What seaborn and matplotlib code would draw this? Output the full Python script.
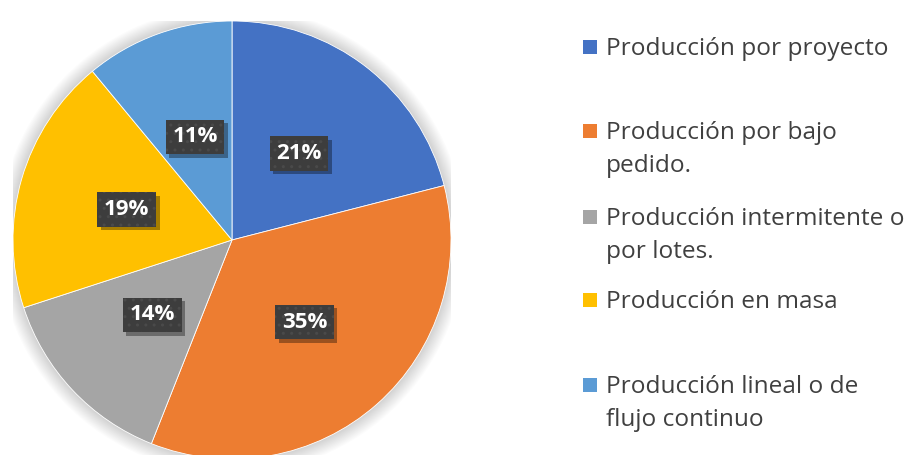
import matplotlib
matplotlib.use("Agg")
import matplotlib.pyplot as plt
import matplotlib.patheffects as pe
from matplotlib.patches import Circle, Rectangle
import seaborn as sns

# Production types and their share (%)
categorias = [
    "Producción por proyecto",
    "Producción por bajo\npedido.",
    "Producción intermitente o\npor lotes.",
    "Producción en masa",
    "Producción lineal o de\nflujo continuo",
]
porcentajes = [21, 35, 14, 19, 11]
colores = ["#4472C4", "#ED7D31", "#A5A5A5", "#FFC000", "#5B9BD5"]


class PlainShadow(pe.AbstractPathEffect):
    """Offset dark copy of a patch, without its hatch pattern."""

    def __init__(self, offset=(2.5, -2.5), alpha=0.4):
        super().__init__(offset)
        self._alpha = alpha

    def draw_path(self, renderer, gc, tpath, affine, rgbFace):
        gc0 = renderer.new_gc()
        gc0.copy_properties(gc)
        gc0.set_hatch(None)
        gc0.set_linewidth(0)
        gc0.set_alpha(self._alpha)
        renderer.draw_path(gc0, tpath, affine + self._offset_transform(renderer), (0, 0, 0))
        gc0.restore()


sns.set_theme(style="white")
plt.rcParams["font.family"] = ["Open Sans", "DejaVu Sans"]
palette = sns.color_palette(colores)

W, H = 916, 455
fig = plt.figure(figsize=(W / 100, H / 100), dpi=100)
fig.patch.set_facecolor("white")

# Pie axes: centre (232, 240) px from top-left, radius 219 px
cx, cy, r = 232, 240, 219
ax = fig.add_axes([(cx - r) / W, (H - cy - r) / H, 2 * r / W, 2 * r / H])
ax.set_axis_off()

# soft halo behind the pie
for i in range(16):
    ax.add_patch(Circle((0, 0), 1.0 + 0.0045 * i, color="black", alpha=0.011, lw=0, zorder=0))

wedges, texts, autotexts = ax.pie(
    porcentajes,
    colors=palette,
    startangle=90,
    counterclock=False,
    autopct="%1.0f%%",
    pctdistance=0.5,
    radius=1.0,
    wedgeprops=dict(edgecolor="white", linewidth=0.6),
    textprops=dict(color="white", fontsize=16, fontweight="bold", family=["Open Sans", "DejaVu Sans"]),
)
for w in wedges:
    w.set_zorder(2)
for t in autotexts:
    t.set_zorder(5)
    t.set_bbox(dict(boxstyle="square,pad=0.3", facecolor="#3d3d3d", edgecolor="#4a4a4a",
                    linewidth=0, hatch=".."))
    t.get_bbox_patch().set_path_effects([PlainShadow(offset=(2.5, -2.5), alpha=0.35), pe.Normal()])
ax.set_xlim(-1, 1)
ax.set_ylim(-1, 1)
ax.set_aspect("equal")

# Legend drawn row by row
baselines = [55, 139, 225, 308, 393]
line_gap = 33.5
sq = 14
for cat, col, yb in zip(categorias, palette, baselines):
    yc = yb - 8.5
    fig.patches.append(Rectangle((583 / W, (H - yc - sq / 2) / H), sq / W, sq / H,
                                 transform=fig.transFigure, facecolor=col, edgecolor="none"))
    for k, line in enumerate(cat.split("\n")):
        fig.text(606 / W, (H - (yb + k * line_gap)) / H, line, fontsize=17.6,
                 color="#404040", va="baseline", ha="left")

fig.savefig("out.png", dpi=100, facecolor="white")
